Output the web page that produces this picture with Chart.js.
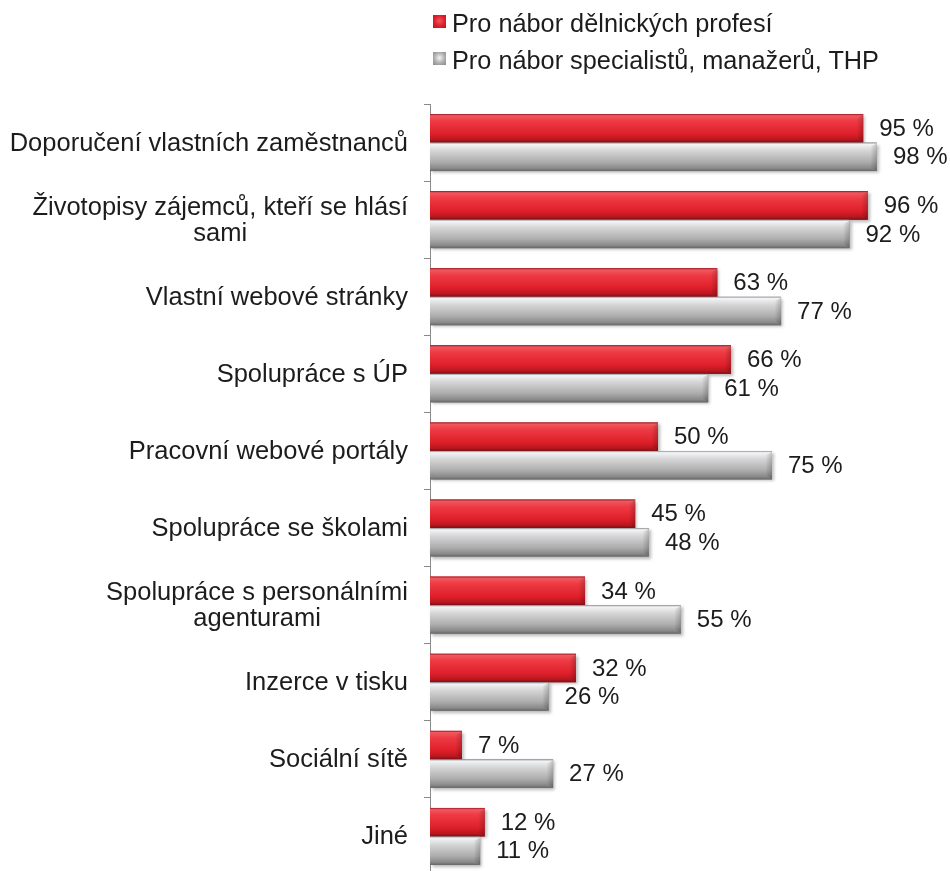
<!DOCTYPE html>
<html lang="cs">
<head>
<meta charset="utf-8">
<title>Zdroje náboru zaměstnanců</title>
<script src="https://cdn.jsdelivr.net/npm/chart.js@4.4.1/dist/chart.umd.min.js"></script>
<style>
  html, body { margin: 0; padding: 0; background: #fff; overflow: hidden; }
  #wrap { position: relative; width: 950px; height: 880px; }
  .legend { position: absolute; left: 433px; top: 0; font: 25.3px "Liberation Sans", Arial, sans-serif; color: #1c1c1c; }
  .legend-item { position: absolute; left: 0; white-space: nowrap; line-height: 26px; height: 26px; }
  .legend-item i { position: absolute; left: 0; top: 5px; width: 13px; height: 13px; }
  .legend-item span { position: absolute; left: 19px; top: 0; }
</style>
</head>
<body>
<div id="wrap">
  <canvas id="zdroje"></canvas>
  <div class="legend" id="legend"></div>
</div>
<script>
// kategorie (víceřádkové popisky jako pole)
const categories = [
  "Doporučení vlastních zaměstnanců",
  ["Životopisy zájemců, kteří se hlásí", "sami"],
  "Vlastní webové stránky",
  "Spolupráce s ÚP",
  "Pracovní webové portály",
  "Spolupráce se školami",
  ["Spolupráce s personálními", "agenturami"],
  "Inzerce v tisku",
  "Sociální sítě",
  "Jiné",
];

const seriesNames = ["Pro nábor dělnických profesí", "Pro nábor specialistů, manažerů, THP"];

// podíl firem v %
const delnickeProfese = [95, 96, 63, 66, 50, 45, 34, 32, 7, 12];
const specialisteThp  = [98, 92, 77, 61, 75, 48, 55, 26, 27, 11];

const FONT = '"Liberation Sans", Arial, sans-serif';
const TEXT_COLOR = "#1c1c1c";

const BASE_COLORS = ["#e2222d", "#b0b0b0"];
const GLOSS = [
  [[0, "#9c1820"], [0.06, "#f0585f"], [0.25, "#ee3a43"], [0.7, "#de1f2a"], [0.9, "#b8171f"], [1, "#7a1015"]],
  [[0, "#8f8f8f"], [0.06, "#f2f4f7"], [0.28, "#d6d6d6"], [0.68, "#adadad"], [0.9, "#8a8a8a"], [1, "#666666"]],
];

// ── legenda ──────────────────────────────────────────────
const legendEl = document.getElementById("legend");
seriesNames.forEach((name, i) => {
  const g = GLOSS[i];
  const item = document.createElement("div");
  item.className = "legend-item";
  item.style.top = (i === 0 ? 10 : 47) + "px";
  item.innerHTML = `<i style="background:radial-gradient(circle at 50% 45%, ${g[1][1]} 0%, ${g[3][1]} 55%, ${g[4][1]} 100%)"></i><span>${name}</span>`;
  legendEl.appendChild(item);
});

// ── lesklé sloupce se stínem ─────────────────────────────
const barGloss = {
  id: "barGloss",
  afterDatasetsDraw(chart) {
    const ctx = chart.ctx;
    chart.data.datasets.forEach((ds, di) => {
      const meta = chart.getDatasetMeta(di);
      meta.data.forEach(el => {
        const { x, y, base, height } = el.getProps(["x", "y", "base", "height"], true);
        const top = y - height / 2;
        const w = x - base;
        const grad = ctx.createLinearGradient(0, top, 0, top + height);
        GLOSS[di].forEach(([p, c]) => grad.addColorStop(p, c));
        ctx.save();
        ctx.shadowColor = "rgba(0,0,0,0.28)";
        ctx.shadowBlur = 3;
        ctx.shadowOffsetX = 2;
        ctx.shadowOffsetY = 2;
        ctx.fillStyle = grad;
        ctx.fillRect(base, top, w, height);
        ctx.restore();
        // zkosený konec sloupce
        const bev = Math.min(6, w / 2);
        const endGrad = ctx.createLinearGradient(x - bev, 0, x, 0);
        endGrad.addColorStop(0, "rgba(0,0,0,0.02)");
        endGrad.addColorStop(1, "rgba(0,0,0,0.2)");
        ctx.save();
        ctx.fillStyle = endGrad;
        ctx.beginPath();
        ctx.moveTo(x - bev, top + 4);
        ctx.lineTo(x, top + 1);
        ctx.lineTo(x, top + height - 1);
        ctx.lineTo(x - bev, top + height - 4);
        ctx.closePath();
        ctx.fill();
        ctx.restore();
      });
    });
  },
};

// ── hodnoty za sloupci ───────────────────────────────────
const valueLabels = {
  id: "valueLabels",
  afterDatasetsDraw(chart) {
    const ctx = chart.ctx;
    ctx.save();
    ctx.font = `24px ${FONT}`;
    ctx.fillStyle = TEXT_COLOR;
    ctx.textAlign = "left";
    ctx.textBaseline = "middle";
    chart.data.datasets.forEach((ds, di) => {
      chart.getDatasetMeta(di).data.forEach((el, i) => {
        const { x, y } = el.getProps(["x", "y"], true);
        ctx.fillText(`${ds.data[i]} %`, x + 16, y + 1);
      });
    });
    ctx.restore();
  },
};

// ── popisky kategorií: blok zarovnaný doprava, řádky na střed ──
const categoryLabels = {
  id: "categoryLabels",
  afterDraw(chart) {
    const ctx = chart.ctx;
    const scale = chart.scales.y;
    const right = scale.right - 22;
    const lineH = 26;
    ctx.save();
    ctx.font = `25.5px ${FONT}`;
    ctx.fillStyle = TEXT_COLOR;
    ctx.textAlign = "center";
    ctx.textBaseline = "middle";
    chart.data.labels.forEach((lbl, i) => {
      const lines = Array.isArray(lbl) ? lbl : [lbl];
      const maxW = Math.max(...lines.map(l => ctx.measureText(l).width));
      const cx = right - maxW / 2;
      const cy = scale.getPixelForTick(i);
      const y0 = cy - (lines.length - 1) * lineH / 2;
      lines.forEach((l, k) => ctx.fillText(l, cx, y0 + k * lineH + 1));
    });
    ctx.restore();
  },
};

new Chart(document.getElementById("zdroje"), {
  type: "bar",
  data: {
    labels: categories,
    datasets: [
      { label: seriesNames[0], data: delnickeProfese, backgroundColor: BASE_COLORS[0] },
      { label: seriesNames[1], data: specialisteThp,  backgroundColor: BASE_COLORS[1] },
    ],
  },
  options: {
    indexAxis: "y",
    responsive: true,
    maintainAspectRatio: false,
    animation: false,
    layout: { padding: { top: 104, right: 64, bottom: 5, left: 0 } },
    datasets: { bar: { categoryPercentage: 0.74, barPercentage: 1.0 } },
    scales: {
      x: { display: false, min: 0, max: 100 },
      y: {
        ticks: { display: false },
        grid: { drawOnChartArea: false, drawTicks: true, tickLength: 6, color: "#8a8a8a", offset: true },
        border: { display: true, color: "#8a8a8a", width: 1 },
        afterFit(scale) { scale.width = 430; },
      },
    },
    plugins: {
      legend: { display: false },
      tooltip: { enabled: false },
    },
  },
  plugins: [barGloss, valueLabels, categoryLabels],
});
</script>
</body>
</html>
